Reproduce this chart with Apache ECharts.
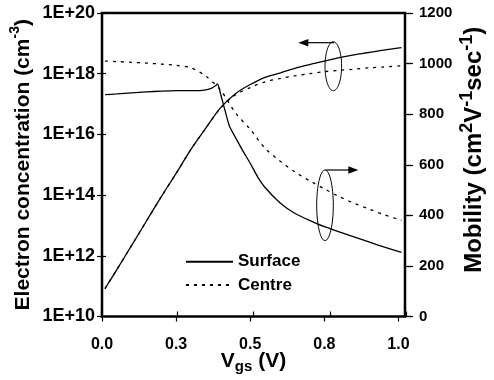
<!DOCTYPE html>
<html><head><meta charset="utf-8">
<script src="https://cdn.jsdelivr.net/npm/echarts@6/dist/echarts.min.js"></script>
<style>html,body{margin:0;padding:0;background:#fff}#c{width:494px;height:380px}</style>
</head><body><div id="c"></div>
<script>
// ---- data ----
const vgs = [0.01,0.05,0.1,0.15,0.2,0.25,0.3,0.35,0.4,0.45,0.5,0.55,0.6,0.65,0.7,0.75,0.8,0.85,0.9,0.95,1.01];
const concSurface = [8.3e10,3.5e11,2.2e12,1.4e13,8.9e13,5.2e14,3.2e15,1.6e16,7.6e16,2.2e17,4.4e17,7.6e17,1.05e18,1.5e18,2.0e18,2.6e18,3.4e18,4.2e18,5.0e18,6.0e18,7.2e18];
const concCentre  = [8.3e10,3.5e11,2.2e12,1.4e13,8.9e13,5.2e14,3.2e15,1.6e16,7.4e16,2.0e17,3.5e17,5.4e17,6.9e17,8.5e17,1.0e18,1.17e18,1.29e18,1.41e18,1.55e18,1.66e18,1.82e18];
const mobCentre   = [1010,1008,1005,1002,998,993,983,950,895,805,740,665,615,572,537,505,474,448,425,403,380];
const vgsMobSurface = [0.01,0.05,0.1,0.15,0.2,0.25,0.3,0.33,0.35,0.37,0.385,0.39,0.4,0.41,0.42,0.43,0.45,0.475,0.5,0.525,0.55,0.6,0.65,0.7,0.75,0.8,0.85,0.9,0.95,1.01];
const mobSurface    = [877,880,884,888,891,893,893,893,896,903,914,920,880,836,792,752,708,655,606,552,510,450,408,380,355,335,315,295,275,254];
const xTickValues = [0,0.25,0.5,0.75,1.0];
const legendNames = ['Surface','Centre'];

const FONT = '"Liberation Sans", Arial, Helvetica, sans-serif';
const pairs = (xs, ys) => xs.map((x, i) => [x, ys[i]]);
const chart = echarts.init(document.getElementById('c'), null, {renderer: 'canvas'});
const gridPos = {left: 101, right: 81, top: 13, bottom: 63.5};
const tickLine = {color: '#000', width: 1.2};
const lbl = {color: '#000', fontWeight: 'bold', fontFamily: FONT};
const bold = (size, extra) => Object.assign({fontSize: size, fontWeight: 'bold', fontFamily: FONT, color: '#000'}, extra || {});
const leftRich = {t: bold(21, {lineHeight: 30}), s: bold(14, {lineHeight: 14, verticalAlign: 'top'})};
const rightRich = {t: bold(24, {lineHeight: 32}), s: bold(18, {lineHeight: 16, verticalAlign: 'top'})};
const xRich = {t: bold(21, {lineHeight: 26}), b: bold(15, {lineHeight: 14, verticalAlign: 'bottom'})};

const option = {
  animation: false,
  backgroundColor: '#fff',
  grid: [
    Object.assign({show: true, borderColor: '#000', borderWidth: 2.5, backgroundColor: 'transparent'}, gridPos),
    Object.assign({}, gridPos)
  ],
  xAxis: [
    {gridIndex: 0, type: 'value', min: 0, max: 1.022,
     axisLine: {show: false}, splitLine: {show: false},
     axisTick: {show: true, length: 5, lineStyle: tickLine, customValues: xTickValues},
     axisLabel: Object.assign({fontSize: 16, margin: 20, formatter: v => v.toFixed(1), customValues: xTickValues}, lbl),
     name: '{t|V}{b|gs}{t| (V)}', nameLocation: 'middle', nameGap: 32, nameMoveOverlap: false,
     nameTextStyle: {rich: xRich}},
    {gridIndex: 1, type: 'value', min: 0, max: 1.022,
     axisLine: {show: false}, splitLine: {show: false}, axisLabel: {show: false},
     axisTick: {show: true, inside: true, length: 5, lineStyle: tickLine, customValues: xTickValues}}
  ],
  yAxis: [
    {gridIndex: 0, type: 'log', logBase: 100, min: 1e10, max: 1e20, position: 'left',
     axisLine: {show: false}, splitLine: {show: false}, minorTick: {show: false},
     axisTick: {show: true, length: 5, lineStyle: tickLine},
     axisLabel: Object.assign({fontSize: 18, margin: 7, formatter: v => '1E+' + Math.round(Math.log10(v))}, lbl),
     name: '{t|Electron concentration (cm}{s|-3}{t|)}', nameLocation: 'middle', nameGap: 64, nameRotate: 90,
     nameMoveOverlap: false, nameTextStyle: {rich: leftRich}},
    {gridIndex: 0, type: 'value', min: 0, max: 1200, interval: 200, position: 'right',
     axisLine: {show: false}, splitLine: {show: false},
     axisTick: {show: true, length: 6, lineStyle: tickLine},
     axisLabel: Object.assign({fontSize: 15, margin: 14, formatter: v => String(v)}, lbl),
     name: '{t|Mobility (cm}{s|2}{t|V}{s|-1}{t|sec}{s|-1}{t|)}', nameLocation: 'middle', nameGap: 53, nameRotate: 90,
     nameMoveOverlap: false, nameTextStyle: {rich: rightRich, padding: [0, 0, 0, 30]}},
    {gridIndex: 1, type: 'log', logBase: 100, min: 1e10, max: 1e20, position: 'left',
     axisLine: {show: false}, splitLine: {show: false}, axisLabel: {show: false},
     axisTick: {show: true, inside: true, length: 5, lineStyle: tickLine}},
    {gridIndex: 1, type: 'value', min: 0, max: 1200, interval: 200, position: 'right',
     axisLine: {show: false}, splitLine: {show: false}, axisLabel: {show: false},
     axisTick: {show: true, inside: true, length: 6, lineStyle: tickLine}}
  ],
  legend: {
    data: legendNames, orient: 'vertical', left: 185, top: 252.7, padding: 0,
    itemWidth: 47, itemHeight: 14, itemGap: 5.3,
    itemStyle: {opacity: 0},
    textStyle: {color: '#000', fontWeight: 'bold', fontSize: 17, fontFamily: FONT, lineHeight: 18}
  },
  series: [
    {name: legendNames[0], type: 'line', xAxisIndex: 0, yAxisIndex: 0, data: pairs(vgs, concSurface),
     symbol: 'none', smooth: 0.3, itemStyle: {color: '#000'}, lineStyle: {color: '#000', width: 1.3}},
    {name: legendNames[1], type: 'line', xAxisIndex: 0, yAxisIndex: 0, data: pairs(vgs, concCentre),
     symbol: 'none', smooth: 0.3, itemStyle: {color: '#000'}, lineStyle: {color: '#000', width: 1.3, type: [3, 5]}},
    {name: 'Surface mobility', type: 'line', xAxisIndex: 0, yAxisIndex: 1, data: pairs(vgsMobSurface, mobSurface),
     symbol: 'none', smooth: 0.2, itemStyle: {color: '#000'}, lineStyle: {color: '#000', width: 1.3}},
    {name: 'Centre mobility', type: 'line', xAxisIndex: 0, yAxisIndex: 1, data: pairs(vgs, mobCentre),
     symbol: 'none', smooth: 0.3, itemStyle: {color: '#000'}, lineStyle: {color: '#000', width: 1.3, type: [3, 5]}}
  ],
  graphic: [
    {type: 'ellipse', shape: {cx: 333.3, cy: 66.2, rx: 8.3, ry: 24.5}, style: {fill: 'none', stroke: '#000', lineWidth: 1}},
    {type: 'polyline', shape: {points: [[334, 42.7], [306, 42.7]]}, style: {stroke: '#000', lineWidth: 1.2, fill: 'none'}},
    {type: 'polygon', shape: {points: [[298.3, 42.7], [308.3, 38.9], [308.3, 46.5]]}, style: {fill: '#000'}},
    {type: 'ellipse', shape: {cx: 325, cy: 205.3, rx: 8.3, ry: 35.3}, style: {fill: 'none', stroke: '#000', lineWidth: 1}},
    {type: 'polyline', shape: {points: [[325.5, 170], [350, 170]]}, style: {stroke: '#000', lineWidth: 1.2, fill: 'none'}},
    {type: 'polygon', shape: {points: [[358.3, 170], [348.3, 166.2], [348.3, 173.8]]}, style: {fill: '#000'}}
  ]
};
chart.setOption(option);
</script>
</body></html>
